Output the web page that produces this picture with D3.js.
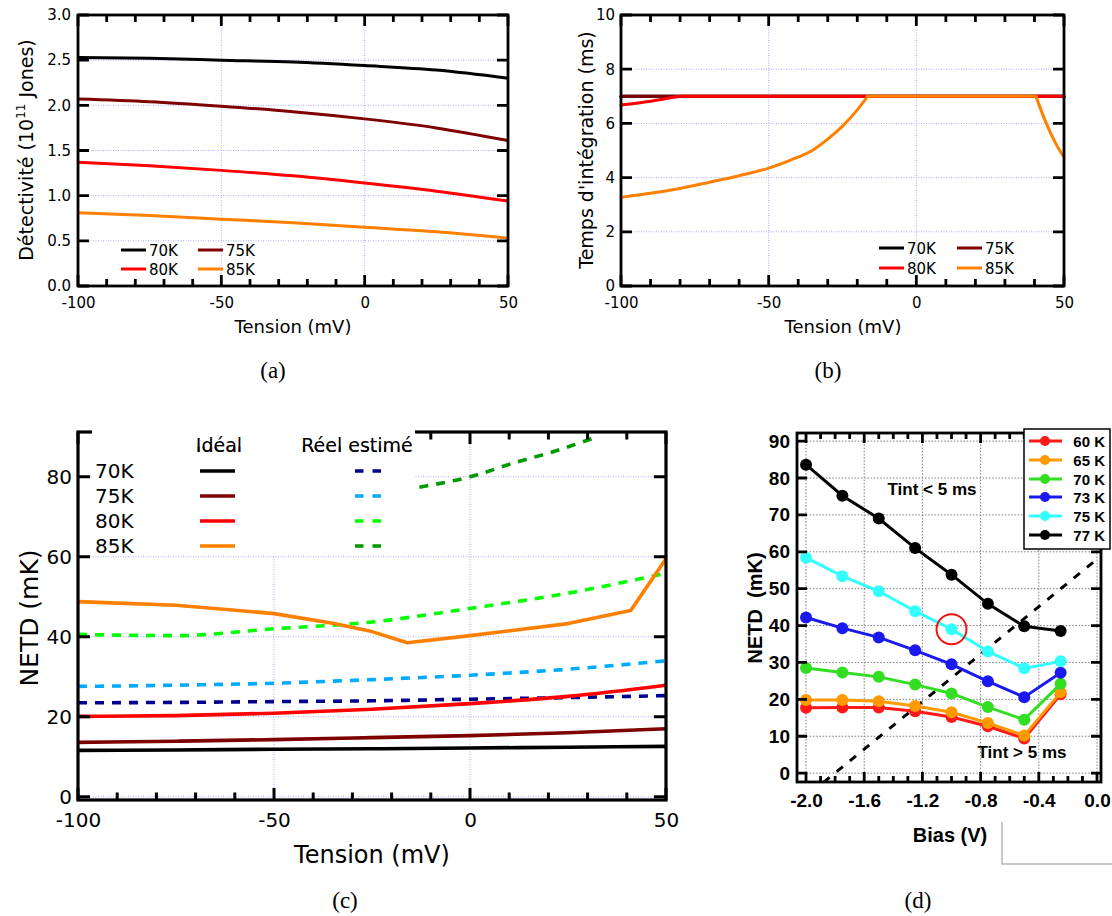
<!DOCTYPE html>
<html><head><meta charset="utf-8">
<script src="https://cdn.jsdelivr.net/npm/d3@7/dist/d3.min.js"></script>
<style>body{margin:0;background:#fff} svg{display:block}</style>
</head><body>
<svg id="c" width="1112" height="916"></svg>
<script>
// ================= DATA =================
// (a) Detectivity vs tension
const tensionA = [-100,-75,-50,-25,0,25,50];
const detect70 = [2.53,2.52,2.50,2.48,2.44,2.39,2.30];
const detect75 = [2.07,2.04,1.99,1.93,1.85,1.75,1.61];
const detect80 = [1.37,1.33,1.28,1.22,1.14,1.05,0.94];
const detect85 = [0.81,0.78,0.74,0.70,0.65,0.60,0.53];
// (b) Integration time
const tint70X = [-100,50], tint70Y = [7,7];
const tint75X = [-100,50], tint75Y = [7,7];
const tint80X = [-100,-90,-80,50], tint80Y = [6.68,6.82,7.0,7.0];
const tint85X = [-100,-90,-80,-70,-60,-50,-43,-35,-30,-25,-20,-16.5,0,40.5,44,47,50];
const tint85Y = [3.27,3.42,3.6,3.83,4.07,4.35,4.63,5.02,5.42,5.9,6.5,7.0,7.0,7.0,6.0,5.3,4.75];
// (c) NETD ideal / estimated
const netdX = [-100,-75,-50,-25,0,25,50];
const ideal70 = [11.6,11.7,11.9,12.0,12.2,12.4,12.6];
const ideal75 = [13.6,13.9,14.3,14.8,15.3,16.0,17.0];
const ideal80 = [20.1,20.3,20.9,21.9,23.3,25.1,27.9];
const ideal85X = [-100,-75,-50,-35,-25,-16,0,25,41,50];
const ideal85 = [48.8,47.9,45.8,43.4,41.3,38.5,40.3,43.3,46.6,59.5];
const reel70 = [23.5,23.6,23.8,24.0,24.4,24.8,25.3];
const reel75 = [27.6,27.9,28.4,29.3,30.4,31.9,34.0];
const reel80 = [40.6,40.3,42.0,43.7,47.1,50.9,55.9];
const reel85X = [-30,-14,0,12,21,31];
const reel85 = [74.5,77.2,80.0,83.7,86.2,89.5];
const tempLabels = ["70K","75K","80K","85K"];
// (d) NETD vs bias
const biasX = [-2.0,-1.75,-1.5,-1.25,-1.0,-0.75,-0.5,-0.25];
const netd60 = [17.7,17.8,17.8,16.8,15.2,12.7,9.4,21.4];
const netd65 = [19.8,19.8,19.5,18.2,16.5,13.6,10.2,21.9];
const netd70 = [28.5,27.3,26.1,24.0,21.6,17.9,14.5,24.2];
const netd73 = [42.2,39.3,36.8,33.3,29.5,24.9,20.6,27.2];
const netd75 = [58.4,53.4,49.3,43.9,39.0,33.0,28.4,30.3];
const netd77 = [83.6,75.2,69.0,61.0,53.8,45.9,39.8,38.5];
const biasLabels = ["60 K","65 K","70 K","73 K","75 K","77 K"];
const guideX = [-1.88, 0.0], guideY = [-2.5, 58];
const circleX = -1.0, circleY = 39;

// ================= HELPERS =================
const svg = d3.select('#c');
svg.append('rect').attr('width',1112).attr('height',916).attr('fill','#fff');
const zip = (xs, ys) => xs.map((v,i)=>[v, ys[i]]);
const range = (a,b,s) => d3.range(a, b + s/2, s);
const hy = f => d => f(d).replace('\u2212','-');
const tickJobs = [];   // ticks are drawn last, on top of everything

function grid(g, x, y, xv, yv, color, dash, w){
  const [y0,y1] = y.range(), [x0,x1] = x.range();
  g.append('g').selectAll('line').data(xv).join('line')
    .attr('x1',d=>x(d)).attr('x2',d=>x(d)).attr('y1',y0).attr('y2',y1)
    .attr('stroke',color).attr('stroke-dasharray',dash).attr('stroke-width',w);
  g.append('g').selectAll('line').data(yv).join('line')
    .attr('y1',d=>y(d)).attr('y2',d=>y(d)).attr('x1',x0).attr('x2',x1)
    .attr('stroke',color).attr('stroke-dasharray',dash).attr('stroke-width',w);
}
function labels(sel, font, fs, fw){
  sel.select('.domain').remove();
  sel.selectAll('.tick line').remove();
  sel.attr('font-family',font).attr('font-size',fs).attr('font-weight',fw||'normal');
  sel.selectAll('text').attr('fill','#000');
}
function frame(g, x, y, o){
  const [x0,x1] = x.range(), [y0,y1] = y.range();
  g.append('g').attr('transform',`translate(0,${y0})`)
    .call(d3.axisBottom(x).tickValues(o.xMaj).tickSize(0).tickPadding(o.padX).tickFormat(o.fmtX))
    .call(s=>labels(s,o.font,o.fs,o.fw));
  g.append('g').attr('transform',`translate(${x0},0)`)
    .call(d3.axisLeft(y).tickValues(o.yMaj).tickSize(0).tickPadding(o.padY).tickFormat(o.fmtY))
    .call(s=>labels(s,o.font,o.fs,o.fw));
  g.append('rect').attr('x',x0).attr('y',y1).attr('width',x1-x0).attr('height',y0-y1)
    .attr('fill','none').attr('stroke','#000').attr('stroke-width',o.fwid);
  // build tick path with scales
  const p = d3.path();
  (o.xMin||[]).forEach(v=>{ const px=x(v); p.moveTo(px,y0); p.lineTo(px,y0-o.minLen); p.moveTo(px,y1); p.lineTo(px,y1+o.minLen); });
  o.xMaj.forEach(v=>{ const px=x(v); p.moveTo(px,y0); p.lineTo(px,y0-o.majLen); p.moveTo(px,y1); p.lineTo(px,y1+o.majLen); });
  o.yMaj.forEach(v=>{ const py=y(v); p.moveTo(x0,py); p.lineTo(x0+o.majLen,py); p.moveTo(x1,py); p.lineTo(x1-o.majLen,py); });
  tickJobs.push({d:p.toString(), w:o.tw, cover:o.cover||null});
}
function clipFor(id, x, y){
  const [x0,x1] = x.range(), [y0,y1] = y.range();
  svg.append('defs').append('clipPath').attr('id',id).append('rect').attr('x',x0).attr('y',y1).attr('width',x1-x0).attr('height',y0-y1);
  return `url(#${id})`;
}

const FONT = '"DejaVu Sans", "Lucida Grande", sans-serif';
const ARIAL = '"Liberation Sans", Arial, sans-serif';
const SERIF = '"Liberation Serif", "DejaVu Serif", serif';
const C70='#000000', C75='#7f0000', C80='#ff0000', C85='#ff8000';

// ================= PANEL (a) =================
{
  const x = d3.scaleLinear().domain([-100,50]).range([78,508]);
  const y = d3.scaleLinear().domain([0,3]).range([286,15]);
  const g = svg.append('g');
  grid(g, x, y, [-100,-50,0,50], range(0,3,0.5), '#9fa3ff', '1,1.5', 0.9);
  const line = d3.line().x(d=>x(d[0])).y(d=>y(d[1])).curve(d3.curveMonotoneX);
  const series = [[detect70,C70],[detect75,C75],[detect80,C80],[detect85,C85]];
  series.forEach(([ys,c])=> g.append('path').attr('d',line(zip(tensionA,ys))).attr('fill','none').attr('stroke',c).attr('stroke-width',3));
  frame(g, x, y, {xMaj:[-100,-50,0,50], xMin:range(-100,50,10), yMaj:range(0,3,0.5), majLen:11, minLen:7, tw:2.8, fwid:2.8,
    padX:11, padY:7, fmtX:hy(d3.format('d')), fmtY:d3.format('.1f'), font:FONT, fs:15});
  const lg = g.append('g').attr('font-family',FONT).attr('font-size',15);
  const pos = [[121,250],[198,250],[121,269],[198,269]];
  series.forEach(([ys,c],i)=>{
    lg.append('line').attr('x1',pos[i][0]).attr('x2',pos[i][0]+25).attr('y1',pos[i][1]).attr('y2',pos[i][1]).attr('stroke',c).attr('stroke-width',3);
    lg.append('text').attr('x',pos[i][0]+28).attr('y',pos[i][1]+5.5).text(tempLabels[i]);
  });
  g.append('text').attr('x',293).attr('y',333).attr('text-anchor','middle').attr('font-family',FONT).attr('font-size',18).text('Tension (mV)');
  const yt = g.append('text').attr('transform','translate(33,150) rotate(-90)').attr('text-anchor','middle').attr('font-family',FONT).attr('font-size',19);
  yt.append('tspan').text('Détectivité (10');
  yt.append('tspan').attr('font-size',12).attr('dy',-8).text('11');
  yt.append('tspan').attr('dy',8).text(' Jones)');
  svg.append('text').attr('x',273).attr('y',378).attr('text-anchor','middle').attr('font-family',SERIF).attr('font-size',23).text('(a)');
}

// ================= PANEL (b) =================
{
  const x = d3.scaleLinear().domain([-100,50]).range([621,1064]);
  const y = d3.scaleLinear().domain([0,10]).range([286,15]);
  const g = svg.append('g');
  grid(g, x, y, [-100,-50,0,50], range(0,10,2), '#9fa3ff', '1,1.5', 0.9);
  const line = d3.line().x(d=>x(d[0])).y(d=>y(d[1]));
  const smooth = d3.line().x(d=>x(d[0])).y(d=>y(d[1])).curve(d3.curveMonotoneX);
  const series = [[tint70X,tint70Y,C70],[tint75X,tint75Y,C75],[tint80X,tint80Y,C80],[tint85X,tint85Y,C85]];
  series.forEach(([xs,ys,c])=>{
    const pts = zip(xs,ys);
    const iTop = ys.indexOf(d3.max(ys));
    const iEnd = ys.lastIndexOf(d3.max(ys));
    const parts = [pts.slice(0,iTop+1), pts.slice(iTop,iEnd+1), pts.slice(iEnd)];
    parts.forEach((p,k)=>{ if (p.length>1) g.append('path').attr('d',(k===1?line:smooth)(p)).attr('fill','none').attr('stroke',c).attr('stroke-width',3).attr('stroke-linecap','round'); });
  });
  frame(g, x, y, {xMaj:[-100,-50,0,50], xMin:range(-100,50,10), yMaj:range(0,10,2), majLen:11, minLen:7, tw:2.8, fwid:2.8,
    padX:11, padY:6, fmtX:hy(d3.format('d')), fmtY:d3.format('d'), font:FONT, fs:15});
  const lg = g.append('g').attr('font-family',FONT).attr('font-size',15);
  const pos = [[879,248],[957,248],[879,268],[957,268]];
  series.forEach(([xs,ys,c],i)=>{
    lg.append('line').attr('x1',pos[i][0]).attr('x2',pos[i][0]+25).attr('y1',pos[i][1]).attr('y2',pos[i][1]).attr('stroke',c).attr('stroke-width',3);
    lg.append('text').attr('x',pos[i][0]+28).attr('y',pos[i][1]+5.5).text(tempLabels[i]);
  });
  g.append('text').attr('x',843).attr('y',333).attr('text-anchor','middle').attr('font-family',FONT).attr('font-size',18).text('Tension (mV)');
  g.append('text').attr('transform','translate(593,150) rotate(-90)').attr('text-anchor','middle').attr('font-family',FONT).attr('font-size',19).text("Temps d'intégration (ms)");
  svg.append('text').attr('x',828).attr('y',378).attr('text-anchor','middle').attr('font-family',SERIF).attr('font-size',23).text('(b)');
}

// ================= PANEL (c) =================
{
  const x = d3.scaleLinear().domain([-100,50]).range([78,666]);
  const y = d3.scaleLinear().domain([-0.8,91.2]).range([800,432]);
  const g = svg.append('g');
  grid(g, x, y, [-100,-50,0,50], range(0,80,20), '#9fa3ff', '1,1.5', 0.9);
  const clip = clipFor('clipc', x, y);
  const line = d3.line().x(d=>x(d[0])).y(d=>y(d[1])).curve(d3.curveMonotoneX);
  const lineL = d3.line().x(d=>x(d[0])).y(d=>y(d[1]));
  const DR70='#00008f', DR75='#00aaff', DR80='#00ff00', DR85='#009900';
  const lines = g.append('g').attr('clip-path',clip);
  const dash = '9,8';
  lines.append('path').attr('d',line(zip(netdX,ideal70))).attr('stroke',C70);
  lines.append('path').attr('d',line(zip(netdX,ideal75))).attr('stroke',C75);
  lines.append('path').attr('d',line(zip(netdX,reel70))).attr('stroke',DR70).attr('stroke-dasharray',dash);
  lines.append('path').attr('d',line(zip(netdX,reel75))).attr('stroke',DR75).attr('stroke-dasharray',dash);
  lines.append('path').attr('d',line(zip(netdX,ideal80))).attr('stroke',C80);
  lines.append('path').attr('d',line(zip(netdX,reel80))).attr('stroke',DR80).attr('stroke-dasharray',dash);
  lines.append('path').attr('d',line(zip(reel85X,reel85))).attr('stroke',DR85).attr('stroke-dasharray',dash);
  lines.append('path').attr('d',lineL(zip(ideal85X,ideal85))).attr('stroke',C85);
  lines.selectAll('path').attr('fill','none').attr('stroke-width',3.6).attr('stroke-linejoin','round');
  frame(g, x, y, {xMaj:[-100,-50,0,50], xMin:range(-100,50,10), yMaj:range(0,80,20), majLen:12, minLen:7.5, tw:3, fwid:3.2,
    padX:13, padY:6, fmtX:hy(d3.format('d')), fmtY:d3.format('d'), font:FONT, fs:20,
    cover:{x:92, y:424, w:323, h:132}});
  const lg = g.append('g').attr('font-family',FONT);
  lg.append('rect').attr('x',92).attr('y',424).attr('width',323).attr('height',132).attr('fill','#fff');
  lg.append('text').attr('x',219).attr('y',452).attr('text-anchor','middle').attr('font-size',19).text('Idéal');
  lg.append('text').attr('x',357).attr('y',452).attr('text-anchor','middle').attr('font-size',19).text('Réel estimé');
  const solid=[C70,C75,C80,C85], dashed=[DR70,DR75,DR80,DR85], rows=[471,496,521,546];
  rows.forEach((ry,i)=>{
    lg.append('text').attr('x',95).attr('y',ry+7).attr('font-size',20).text(tempLabels[i]);
    lg.append('line').attr('x1',200).attr('x2',235).attr('y1',ry).attr('y2',ry).attr('stroke',solid[i]).attr('stroke-width',3.6);
    lg.append('line').attr('x1',355).attr('x2',381).attr('y1',ry).attr('y2',ry).attr('stroke',dashed[i]).attr('stroke-width',3.6).attr('stroke-dasharray','8.5,9');
  });
  g.append('text').attr('x',372).attr('y',863).attr('text-anchor','middle').attr('font-family',FONT).attr('font-size',24).text('Tension (mV)');
  g.append('text').attr('transform','translate(38,618) rotate(-90)').attr('text-anchor','middle').attr('font-family',FONT).attr('font-size',25).text('NETD (mK)');
  svg.append('text').attr('x',345).attr('y',908).attr('text-anchor','middle').attr('font-family',SERIF).attr('font-size',23).text('(c)');
}

// ================= PANEL (d) =================
{
  const x = d3.scaleLinear().domain([-2.062,0.0275]).range([797,1101]);
  const y = d3.scaleLinear().domain([-2.4,92.2]).range([782,433]);
  const g = svg.append('g');
  grid(g, x, y, range(-2.0,0,0.4), range(0,90,10), '#777', '1.6,1.6', 0.9);
  const clip = clipFor('clipd', x, y);
  const line = d3.line().x(d=>x(d[0])).y(d=>y(d[1]));
  g.append('path').attr('clip-path',clip).attr('d',line(zip(guideX,guideY))).attr('fill','none')
    .attr('stroke','#000').attr('stroke-width',3).attr('stroke-dasharray','8,9');
  const series = [[netd60,'#ff1a1a'],[netd65,'#ff9900'],[netd70,'#33dd22'],[netd73,'#1a1aee'],[netd75,'#33ffff'],[netd77,'#000000']];
  frame(g, x, y, {xMaj:range(-2.0,0,0.4), xMin:range(-2.0,0,0.1), yMaj:range(0,90,10), majLen:10, minLen:6, tw:2.8, fwid:2.8,
    padX:12, padY:7, fmtX:hy(d3.format('.1f')), fmtY:d3.format('d'), font:ARIAL, fs:19, fw:'bold',
    cover:{x:1024, y:429, w:86, h:120}});
  series.forEach(([ys,c])=>{
    const pts = zip(biasX, ys);
    g.append('path').attr('d',line(pts)).attr('fill','none').attr('stroke',c).attr('stroke-width',3);
    g.selectAll(null).data(pts).enter().append('circle').attr('cx',d=>x(d[0])).attr('cy',d=>y(d[1])).attr('r',6).attr('fill',c);
  });
  g.append('circle').attr('cx',x(circleX)).attr('cy',y(circleY)).attr('r',15).attr('fill','none').attr('stroke','#ee1111').attr('stroke-width',2);
  g.append('text').attr('x',932).attr('y',495).attr('text-anchor','middle').attr('font-family',ARIAL).attr('font-weight','bold').attr('font-size',17).text('Tint < 5 ms');
  g.append('text').attr('x',1022).attr('y',758).attr('text-anchor','middle').attr('font-family',ARIAL).attr('font-weight','bold').attr('font-size',17).text('Tint > 5 ms');
  g.append('text').attr('x',950).attr('y',842).attr('text-anchor','middle').attr('font-family',ARIAL).attr('font-weight','bold').attr('font-size',20).text('Bias (V)');
  g.append('text').attr('transform','translate(762,608) rotate(-90)').attr('text-anchor','middle').attr('font-family',ARIAL).attr('font-weight','bold').attr('font-size',20).style('white-space','pre').text('NETD  (mK)');
  svg.append('rect').attr('x',1002).attr('y',822).attr('width',110).attr('height',42).attr('fill','#fff');
  svg.append('path').attr('d','M1002,822 V864 H1112').attr('fill','none').attr('stroke','#b5b5b5').attr('stroke-width',1.5);
  svg.append('text').attr('x',918).attr('y',908).attr('text-anchor','middle').attr('font-family',SERIF).attr('font-size',23).text('(d)');
}

// ================= TICKS (on top), legends that hide them drawn after =================
const tickLayer = svg.append('g');
tickJobs.forEach(j=>{
  tickLayer.append('path').attr('d',j.d).attr('fill','none').attr('stroke','#000')
    .attr('stroke-width',j.w).attr('stroke-linecap','butt');
});
// re-cover ticks under the (c) legend box
tickLayer.append('rect').attr('x',92).attr('y',424).attr('width',323).attr('height',8.5+14).attr('fill','#fff');
{
  // (c) legend header texts sit in that area: redraw them on top
  tickLayer.append('text').attr('x',219).attr('y',452).attr('text-anchor','middle').attr('font-family',FONT).attr('font-size',19).text('Idéal');
  tickLayer.append('text').attr('x',357).attr('y',452).attr('text-anchor','middle').attr('font-family',FONT).attr('font-size',19).text('Réel estimé');
}
// (d) legend box above its frame/ticks
{
  const series = [[netd60,'#ff1a1a'],[netd65,'#ff9900'],[netd70,'#33dd22'],[netd73,'#1a1aee'],[netd75,'#33ffff'],[netd77,'#000000']];
  const lg = svg.append('g').attr('font-family',ARIAL).attr('font-weight','bold').attr('font-size',15);
  lg.append('rect').attr('x',1024).attr('y',429).attr('width',86).attr('height',120).attr('fill','#fff').attr('stroke','#000').attr('stroke-width',1.5);
  const rows=[441,460,479,497,516,535];
  series.forEach(([ys,c],i)=>{
    lg.append('line').attr('x1',1029).attr('x2',1062).attr('y1',rows[i]).attr('y2',rows[i]).attr('stroke',c).attr('stroke-width',3);
    lg.append('circle').attr('cx',1045).attr('cy',rows[i]).attr('r',5).attr('fill',c);
    lg.append('text').attr('x',1105).attr('y',rows[i]+5.5).attr('text-anchor','end').text(biasLabels[i]);
  });
}
</script>
</body></html>
